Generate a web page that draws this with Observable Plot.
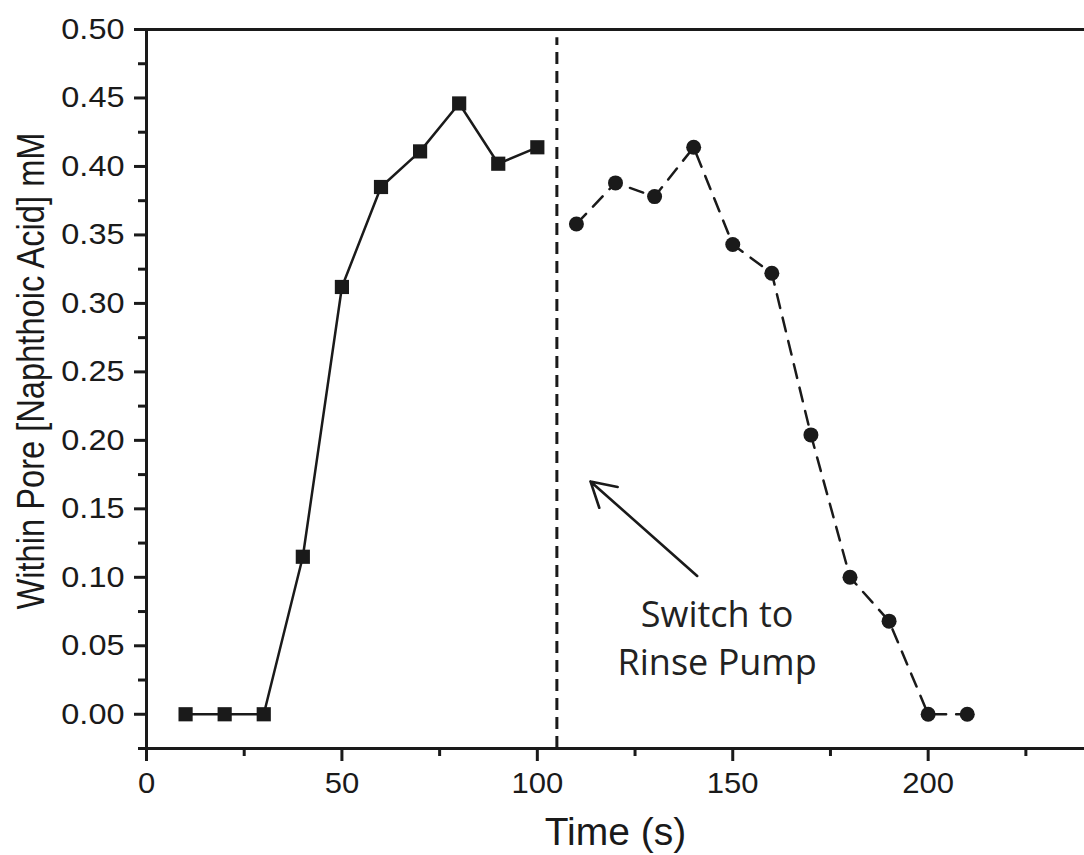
<!DOCTYPE html>
<html><head><meta charset="utf-8">
<script src="https://cdn.jsdelivr.net/npm/d3@7"></script>
<script src="https://cdn.jsdelivr.net/npm/@observablehq/plot@0.6"></script>
<style>body{margin:0;background:#fff}svg{display:block}</style>
</head><body><div id="chart"></div>
<script>
const fillTime = [10, 20, 30, 40, 50, 60, 70, 80, 90, 100];
const fillConc = [0, 0, 0, 0.115, 0.312, 0.385, 0.411, 0.446, 0.402, 0.414];
const rinseTime = [110, 120, 130, 140, 150, 160, 170, 180, 190, 200, 210];
const rinseConc = [0.358, 0.388, 0.378, 0.414, 0.343, 0.322, 0.204, 0.100, 0.068, 0, 0];
const xMajor = [0, 50, 100, 150, 200];
const xMinor = [25, 75, 125, 175, 225];
const yMajor = [0, 0.05, 0.10, 0.15, 0.20, 0.25, 0.30, 0.35, 0.40, 0.45, 0.50];
const yMinor = [-0.025, 0.025, 0.075, 0.125, 0.175, 0.225, 0.275, 0.325, 0.375, 0.425, 0.475];
const switchTime = 105;
const xTitle = "Time (s)";
const yTitle = "Within Pore [Naphthoic Acid] mM";
const noteLines = ["Switch to", "Rinse Pump"];
const arrowFrom = {x: 140.9, y: 0.101};
const arrowTo = {x: 113.6, y: 0.170};
const noteX = 146;
const noteY = 0.088;

const fillData = fillTime.map((t, i) => ({t, c: fillConc[i]}));
const rinseData = rinseTime.map((t, i) => ({t, c: rinseConc[i]}));
const ink = "#1a1a1a";
const tickFont = 29;

const chart = Plot.plot({
  width: 1084,
  height: 855,
  marginLeft: 146,
  marginRight: 0,
  marginTop: 29,
  marginBottom: 107,
  style: {fontFamily: "'Liberation Sans', Arial, sans-serif", background: "#fff", color: ink},
  x: {domain: [0, 240]},
  y: {domain: [-0.025, 0.5]},
  marks: [
    // axis lines
    Plot.ruleX([0], {stroke: ink, strokeWidth: 3}),
    Plot.ruleY([-0.025], {stroke: ink, strokeWidth: 3}),
    Plot.ruleY([0.5], {stroke: ink, strokeWidth: 3}),
    // ticks
    Plot.axisX({ticks: xMajor, tickSize: 13, tickPadding: 11, strokeWidth: 3, stroke: ink,
      fontSize: tickFont, tickFormat: d => String(d), label: null, fill: ink}),
    Plot.axisX({ticks: xMinor, tickSize: 8, strokeWidth: 3, stroke: ink, text: null, label: null}),
    Plot.axisY({ticks: yMajor, tickSize: 12, tickPadding: 10, strokeWidth: 3, stroke: ink,
      fontSize: tickFont, tickFormat: d3.format(".2f"), label: null, fill: ink}),
    Plot.axisY({ticks: yMinor, tickSize: 8, strokeWidth: 3, stroke: ink, text: null, label: null}),
    // axis titles
    Plot.text([xTitle], {frameAnchor: "bottom", dy: 96, lineAnchor: "bottom", fontSize: 39, fill: ink, text: d => d}),
    Plot.text([yTitle], {frameAnchor: "left", textAnchor: "middle", dx: -115, dy: -18, rotate: -90,
      fontSize: 38, fill: ink, text: d => d}),
    // switch line
    Plot.ruleX([switchTime], {y1: -0.025, y2: 0.494, stroke: ink, strokeWidth: 3, strokeDasharray: "12,7"}),
    // series
    Plot.line(fillData, {x: "t", y: "c", stroke: ink, strokeWidth: 2.5}),
    Plot.dot(fillData, {x: "t", y: "c", symbol: "square", r: 8, fill: ink, stroke: "none"}),
    Plot.line(rinseData, {x: "t", y: "c", stroke: ink, strokeWidth: 2.5, strokeDasharray: "14,10"}),
    Plot.dot(rinseData, {x: "t", y: "c", symbol: "circle", r: 7.5, fill: ink, stroke: "none"}),
    // annotation
    Plot.arrow([{}], {x1: arrowFrom.x, y1: arrowFrom.y, x2: arrowTo.x, y2: arrowTo.y,
      stroke: ink, strokeWidth: 2.6, headLength: 16, headAngle: 60}),
    Plot.text([noteLines.join("\n")], {x: noteX, y: noteY, text: d => d, lineAnchor: "top",
      lineHeight: 1.32, fontSize: 36, fontFamily: "'Open Sans', sans-serif", fill: "#222"})
  ]
});
// the reference's Arial texts are slightly wider than natural; stretch them a little
chart.querySelectorAll('g[aria-label="y-axis tick label"] text').forEach(t => {
  t.setAttribute("transform", (t.getAttribute("transform") || "") + " scale(1.12,1)");
});
chart.querySelectorAll('g[aria-label="x-axis tick label"] text').forEach(t => {
  t.setAttribute("transform", (t.getAttribute("transform") || "") + " scale(1.07,1)");
});
chart.querySelectorAll("text").forEach(t => {
  if (t.textContent === yTitle) {
    t.setAttribute("textLength", 477);
    t.setAttribute("lengthAdjust", "spacingAndGlyphs");
  }
});
document.getElementById("chart").append(chart);
</script>
</body></html>
